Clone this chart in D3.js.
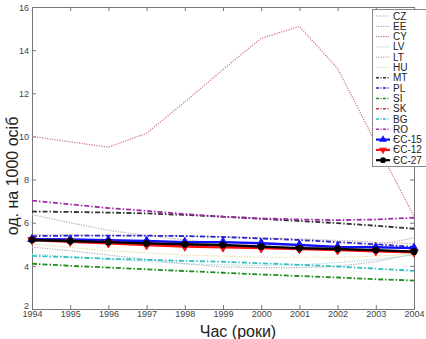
<!DOCTYPE html>
<html><head><meta charset="utf-8">
<script src="https://cdn.jsdelivr.net/npm/d3@7"></script>
<style>body{margin:0;background:#fff}svg{display:block;font-family:"Liberation Sans",Arial,sans-serif}</style>
</head><body><svg id="c" width="426" height="339"></svg>
<script>
const years = [1994,1995,1996,1997,1998,1999,2000,2001,2002,2003,2004];
const yTicks = [2,4,6,8,10,12,14,16];
const seriesNames = ["CZ","EE","CY","LV","LT","HU","MT","PL","SI","SK","BG","RO","ЄС-15","ЄС-12","ЄС-27"];
const CZ = [5.45,5.43,5.41,5.4,5.38,5.35,5.3,5.25,5.18,5.1,5.02];
const EE = [4.87,4.7,4.5,4.3,4.1,3.95,3.92,3.92,3.97,4.2,4.55];
const CY = [10.0,9.75,9.5,10.15,11.6,13.1,14.55,15.1,13.15,9.7,6.3];
const LV = [4.55,4.42,4.3,4.2,4.1,4.05,4.02,4.05,4.15,4.3,4.5];
const LT = [6.38,6.0,5.65,5.4,5.2,5.05,4.95,4.85,4.85,4.95,5.3];
const HU = [5.0,4.85,4.7,4.6,4.5,4.45,4.4,4.4,4.4,4.45,4.55];
const MT = [6.52,6.5,6.47,6.43,6.36,6.28,6.18,6.08,5.98,5.86,5.72];
const PL = [5.38,5.4,5.4,5.4,5.38,5.34,5.27,5.2,5.1,5.0,4.88];
const SI = [4.1,4.0,3.92,3.84,3.76,3.68,3.6,3.53,3.46,3.38,3.32];
const SK = [5.25,5.2,5.12,5.05,4.98,4.92,4.87,4.8,4.75,4.7,4.65];
const BG = [4.46,4.4,4.33,4.28,4.23,4.19,4.12,4.05,3.97,3.87,3.77];
const RO = [7.02,6.85,6.68,6.55,6.4,6.28,6.2,6.15,6.12,6.15,6.23];
const EU15 = [5.24,5.22,5.19,5.15,5.1,5.1,5.05,4.97,4.88,4.86,4.82];
const EU12 = [5.2,5.12,5.05,4.97,4.9,4.86,4.82,4.78,4.73,4.68,4.63];
const EU27 = [5.2,5.15,5.1,5.04,5.0,4.97,4.89,4.82,4.78,4.73,4.66];
const seriesValues = [CZ,EE,CY,LV,LT,HU,MT,PL,SI,SK,BG,RO,EU15,EU12,EU27];

const styles = [
 {c:"#c8a2aa",d:"1.2,1.3",w:1.2},
 {c:"#b4aab4",d:"1.2,1.3",w:1.2},
 {c:"#cc7a84",d:"1.2,1.3",w:1.3},
 {c:"#a6dada",d:"1.2,1.3",w:1.2},
 {c:"#c2a6b0",d:"1.2,1.3",w:1.2},
 {c:"#e6dc9c",d:"1.2,1.3",w:1.2},
 {c:"#333333",d:"5,2,1.5,2",w:1.8},
 {c:"#2626c8",d:"5,2,1.5,2",w:1.8},
 {c:"#1e8c1e",d:"5,2,1.5,2",w:1.8},
 {c:"#c83232",d:"5,2,1.5,2",w:1.8},
 {c:"#30c0c4",d:"5,2,1.5,2",w:1.8},
 {c:"#a02ca8",d:"5,2,1.5,2",w:1.8},
 {c:"#1010ff",d:null,w:2.4,m:"tri"},
 {c:"#ff1010",d:null,w:2.4,m:"tri-down"},
 {c:"#000000",d:null,w:2.4,m:"circle"}
];

const svg = d3.select("#c");
const L=32,R=414,T=7,B=309;
const x = d3.scaleLinear().domain([1994,2004]).range([L,R]);
const y = d3.scaleLinear().domain([2,16]).range([B,T]);
const axisCol="#777";
const tickCol="#444";

const gx = svg.append("g").attr("transform",`translate(0,${B})`)
  .call(d3.axisBottom(x).tickValues(years).tickFormat(d3.format("d")).tickSizeInner(-4).tickSizeOuter(0).tickPadding(2));
const gxt = svg.append("g").attr("transform",`translate(0,${T})`)
  .call(d3.axisTop(x).tickValues(years).tickFormat("").tickSizeInner(-4).tickSizeOuter(0));
const gy = svg.append("g").attr("transform",`translate(${L},0)`)
  .call(d3.axisLeft(y).tickValues(yTicks).tickFormat(d3.format("d")).tickSizeInner(-4).tickSizeOuter(0).tickPadding(3));
const gyr = svg.append("g").attr("transform",`translate(${R},0)`)
  .call(d3.axisRight(y).tickValues(yTicks).tickFormat("").tickSizeInner(-4).tickSizeOuter(0));
[gx,gxt,gy,gyr].forEach(g=>{
  g.selectAll("path").attr("stroke",axisCol);
  g.selectAll("line").attr("stroke",axisCol);
  g.selectAll("text").attr("fill",tickCol).style("font-size","9px");
});
gy.selectAll("text").attr("dy","0.35em");
gy.selectAll(".tick").filter(d=>d===2).select("text").attr("dy","-0.1em");

const line = d3.line().x((d,i)=>x(years[i])).y(d=>y(d));
const plot = svg.append("g");
seriesValues.forEach((vals,k)=>{
  const s=styles[k];
  plot.append("path").attr("d",line(vals)).attr("fill","none")
    .attr("stroke",s.c).attr("stroke-width",s.w)
    .attr("stroke-dasharray",s.d||null).attr("stroke-linejoin","round");
  if(s.m){
    const sym = s.m==="circle"?d3.symbolCircle:d3.symbolTriangle;
    plot.selectAll(null).data(vals).enter().append("path")
      .attr("d",d3.symbol().type(sym).size(30))
      .attr("transform",(d,i)=>`translate(${x(years[i])},${y(d)})`+(s.m==="tri-down"?" rotate(180)":""))
      .attr("fill",s.c).attr("stroke",s.c).attr("stroke-width",1);
  }
});

const lg = svg.append("g");
lg.append("rect").attr("x",372.5).attr("y",9.5).attr("width",60).attr("height",157)
  .attr("fill","#fff").attr("stroke","#888").attr("stroke-width",1);
seriesNames.forEach((n,k)=>{
  const s=styles[k];
  const yy = 16 + k*10.3;
  lg.append("line").attr("x1",376).attr("x2",390).attr("y1",yy).attr("y2",yy)
    .attr("stroke",s.c).attr("stroke-width",s.m?2.2:Math.max(1.2,s.w-0.3))
    .attr("stroke-dasharray",s.d?(s.d.length>8?"3,1.5,1,1.5":"1.2,1.2"):null);
  if(s.m){
    const sym = s.m==="circle"?d3.symbolCircle:d3.symbolTriangle;
    lg.append("path").attr("d",d3.symbol().type(sym).size(26))
      .attr("transform",`translate(383,${yy})`+(s.m==="tri-down"?" rotate(180)":""))
      .attr("fill",s.c);
  }
  lg.append("text").attr("x",393).attr("y",yy).attr("dy","0.35em")
    .attr("fill","#222").style("font-size","10px").text(n);
});

svg.append("text").attr("x",238).attr("y",337).attr("text-anchor","middle")
  .attr("fill","#222").style("font-size","16px").text("Час (роки)");
svg.append("text").attr("transform","translate(18,176) rotate(-90)").attr("text-anchor","middle")
  .attr("fill","#222").style("font-size","16px").text("од. на 1000 осіб");
</script></body></html>
